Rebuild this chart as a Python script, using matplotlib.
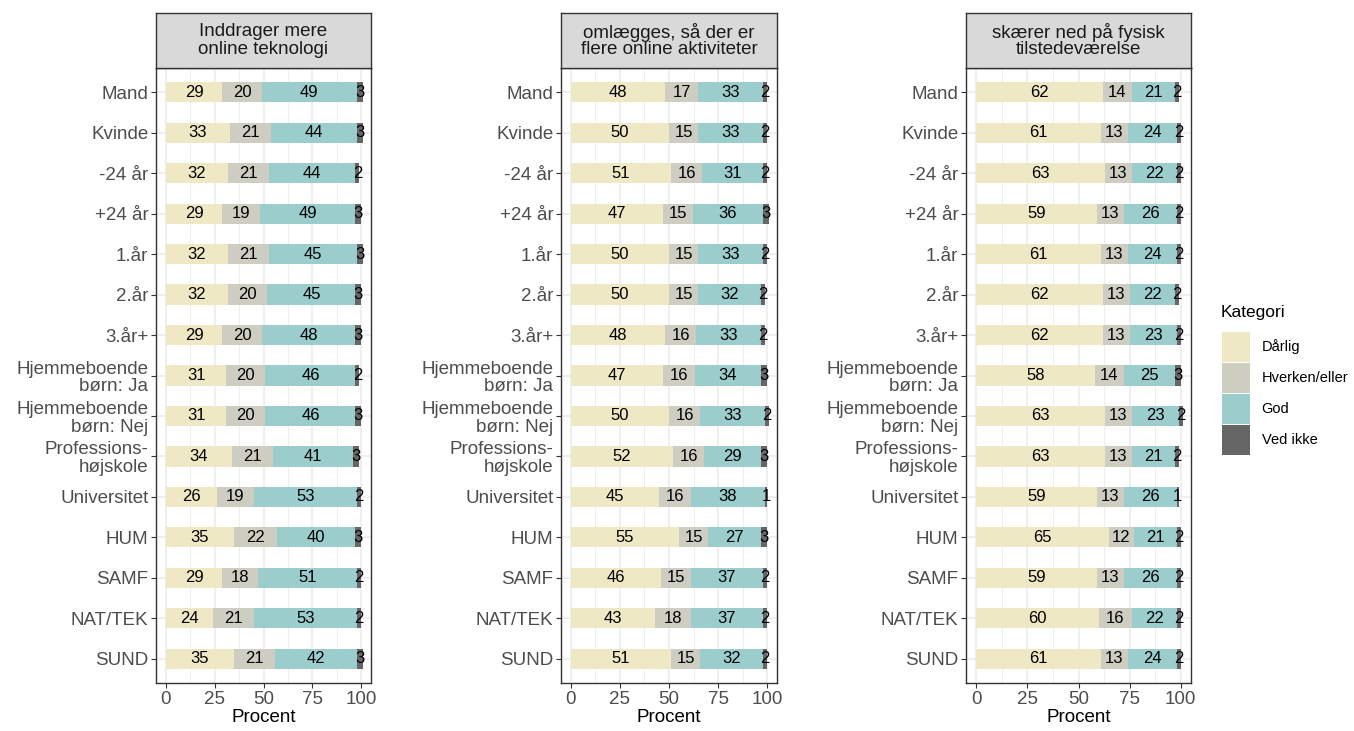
import matplotlib.pyplot as plt
from matplotlib.patches import Patch
import numpy as np

plt.rcParams["font.family"] = ["Liberation Sans", "DejaVu Sans"]

groups = [
    "Mand", "Kvinde", "-24 år", "+24 år", "1.år", "2.år", "3.år+",
    "Hjemmeboende\nbørn: Ja", "Hjemmeboende\nbørn: Nej", "Professions-\nhøjskole",
    "Universitet", "HUM", "SAMF", "NAT/TEK", "SUND",
]
panel_titles = [
    "Inddrager mere\nonline teknologi",
    "omlægges, så der er\nflere online aktiviteter",
    "skærer ned på fysisk\ntilstedeværelse",
]
categories = ["Dårlig", "Hverken/eller", "God", "Ved ikke"]
colors = ["#EEE8C4", "#CDCDC1", "#9BCDCD", "#666666"]

# Inddrager mere online teknologi
p1_darlig = [29, 33, 32, 29, 32, 32, 29, 31, 31, 34, 26, 35, 29, 24, 35]
p1_hverken = [20, 21, 21, 19, 21, 20, 20, 20, 20, 21, 19, 22, 18, 21, 21]
p1_god = [49, 44, 44, 49, 45, 45, 48, 46, 46, 41, 53, 40, 51, 53, 42]
p1_vedikke = [3, 3, 2, 3, 3, 3, 3, 2, 3, 3, 2, 3, 2, 2, 3]

# omlægges, så der er flere online aktiviteter
p2_darlig = [48, 50, 51, 47, 50, 50, 48, 47, 50, 52, 45, 55, 46, 43, 51]
p2_hverken = [17, 15, 16, 15, 15, 15, 16, 16, 16, 16, 16, 15, 15, 18, 15]
p2_god = [33, 33, 31, 36, 33, 32, 33, 34, 33, 29, 38, 27, 37, 37, 32]
p2_vedikke = [2, 2, 2, 3, 2, 2, 2, 3, 2, 3, 1, 3, 2, 2, 2]

# skærer ned på fysisk tilstedeværelse
p3_darlig = [62, 61, 63, 59, 61, 62, 62, 58, 63, 63, 59, 65, 59, 60, 61]
p3_hverken = [14, 13, 13, 13, 13, 13, 13, 14, 13, 13, 13, 12, 13, 16, 13]
p3_god = [21, 24, 22, 26, 24, 22, 23, 25, 23, 21, 26, 21, 26, 22, 24]
p3_vedikke = [2, 2, 2, 2, 2, 2, 2, 3, 2, 2, 1, 2, 2, 2, 2]

panels = [
    [p1_darlig, p1_hverken, p1_god, p1_vedikke],
    [p2_darlig, p2_hverken, p2_god, p2_vedikke],
    [p3_darlig, p3_hverken, p3_god, p3_vedikke],
]

W, H = 1354, 731
fig = plt.figure(figsize=(W / 100, H / 100), dpi=100)

# pixel boxes of the panels (left, right)
boxes = [(156, 371), (561, 777), (966, 1191)]
ax_top, ax_bot, strip_top = 68, 683, 13

y = np.arange(len(groups))
for (x0, x1), title, series in zip(boxes, panel_titles, panels):
    ax = fig.add_axes([x0 / W, 1 - ax_bot / H, (x1 - x0) / W, (ax_bot - ax_top) / H])
    left = np.zeros(len(groups))
    for vals, col in zip(series, colors):
        vals = np.array(vals, dtype=float)
        ax.barh(y, vals, left=left, height=0.5, color=col, zorder=2)
        for yi, li, v in zip(y, left, vals):
            ax.text(li + v / 2, yi, f"{int(v)}", ha="center", va="center",
                    fontsize=12, color="black", zorder=3)
        left += vals

    ax.set_xlim(-5, 105)
    ax.set_ylim(len(groups) - 0.4, -0.6)
    ax.set_xticks([0, 25, 50, 75, 100])
    ax.set_xticks([12.5, 37.5, 62.5, 87.5], minor=True)
    ax.set_yticks(y)
    ax.set_yticklabels(groups, linespacing=1.05)
    ax.grid(True, which="major", color="#EBEBEB", lw=1.1, zorder=0)
    ax.grid(True, which="minor", axis="x", color="#EBEBEB", lw=0.6, zorder=0)
    ax.set_axisbelow(True)
    ax.tick_params(axis="both", which="major", length=3.5, width=0.8,
                   color="#333333", labelsize=13.5, labelcolor="#4D4D4D", pad=2)
    ax.tick_params(axis="x", which="minor", length=0)
    for s in ax.spines.values():
        s.set_color("#333333")
        s.set_linewidth(1.0)
    ax.set_xlabel("Procent", fontsize=13.5, color="black", labelpad=1)

    # facet strip
    sax = fig.add_axes([x0 / W, 1 - ax_top / H, (x1 - x0) / W, (ax_top - strip_top) / H])
    sax.set_facecolor("#D9D9D9")
    sax.set_xticks([])
    sax.set_yticks([])
    for s in sax.spines.values():
        s.set_color("#333333")
        s.set_linewidth(1.0)
    sax.text(0.5, 0.5, title, ha="center", va="center", fontsize=13.5,
             color="#1A1A1A", linespacing=1.0, transform=sax.transAxes)

# legend (title placed separately to get the ggplot gap)
fig.text(1221 / W, 1 - 312 / H, "Kategori", fontsize=12.5, ha="left", va="center")
handles = [Patch(facecolor=c, edgecolor="none") for c in colors]
leg = fig.legend(handles, categories, loc="upper left",
                 bbox_to_anchor=(1222 / W, 1 - 332 / H), frameon=False,
                 fontsize=10.5, handlelength=1.92, handleheight=2.75,
                 labelspacing=0.1, handletextpad=0.8, borderpad=0,
                 borderaxespad=0)

fig.savefig("out.png", dpi=100)
